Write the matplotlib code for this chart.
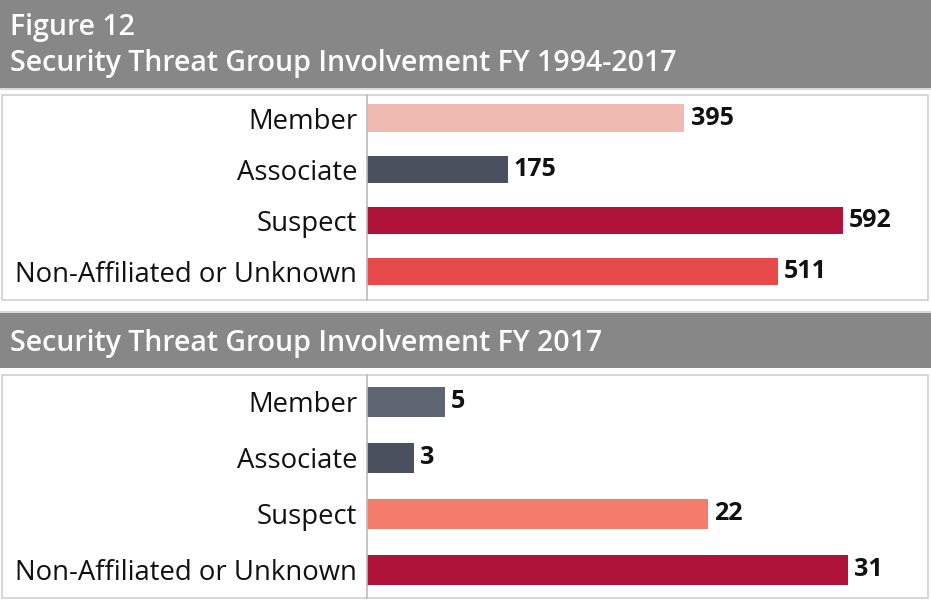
import matplotlib
matplotlib.use("Agg")
import matplotlib.pyplot as plt
from matplotlib.patches import Rectangle

plt.rcParams['font.family'] = ['Open Sans', 'DejaVu Sans']

categories = ["Member", "Associate", "Suspect", "Non-Affiliated or Unknown"]
values_all = [395, 175, 592, 511]
values_2017 = [5, 3, 22, 31]
colors_all = ["#EFBAB2", "#4A505E", "#B0133A", "#E8494A"]
colors_2017 = ["#5E6570", "#4A505E", "#F47C6A", "#B0133A"]
fig_label = "Figure 12"
title_all = "Security Threat Group Involvement FY 1994-2017"
title_2017 = "Security Threat Group Involvement FY 2017"

W, H = 931, 600
fig = plt.figure(figsize=(W / 100, H / 100), dpi=100)
fig.patch.set_facecolor("white")

def px_rect(x0, y0, x1, y1, **kw):
    # pixel coords from top-left
    r = Rectangle((x0 / W, 1 - y1 / H), (x1 - x0) / W, (y1 - y0) / H,
                  transform=fig.transFigure, zorder=-5, **kw)
    fig.patches.append(r)

HEADER = "#878787"
BORDER = "#CFCFCF"

# header 1
px_rect(0, 0, 931, 88, facecolor=HEADER, edgecolor="none")
px_rect(0, 88, 931, 90, facecolor="#DADADA", edgecolor="none")
fig.text(10 / W, 1 - 27 / H, fig_label, color="white", fontsize=20.5,
         fontweight="semibold", va="center", ha="left")
fig.text(10 / W, 1 - 63 / H, title_all, color="white", fontsize=20.5,
         fontweight="semibold", va="center", ha="left")
# box 1
px_rect(2, 95, 928, 300, facecolor="white", edgecolor=BORDER, linewidth=1.2)

# header 2
px_rect(0, 311, 931, 313, facecolor="#DADADA", edgecolor="none")
px_rect(0, 313, 931, 368, facecolor=HEADER, edgecolor="none")
fig.text(10 / W, 1 - 343 / H, title_2017, color="white", fontsize=20.5,
         fontweight="semibold", va="center", ha="left")
# box 2
px_rect(2, 375, 928, 598, facecolor="white", edgecolor=BORDER, linewidth=1.2)


def panel(y0, y1, values, colors, xmax, top_pad, bot_pad):
    ax = fig.add_axes([367 / W, 1 - y1 / H, (927 - 367) / W, (y1 - y0) / H])
    ax.set_zorder(2)
    ax.set_facecolor("none")
    pos = list(range(len(categories)))
    ax.barh(pos, values, height=0.53, color=colors, edgecolor="none")
    ax.set_xlim(0, xmax)
    ax.set_ylim(len(categories) - 1 + bot_pad, -top_pad)
    ax.set_yticks(pos)
    ax.set_yticklabels(categories, fontsize=19.8, color="#111111")
    ax.tick_params(axis="y", length=0, pad=7)
    ax.set_xticks([])
    for s in ["top", "right", "bottom"]:
        ax.spines[s].set_visible(False)
    ax.spines["left"].set_color("#BBBBBB")
    ax.spines["left"].set_linewidth(1.2)
    for p, v in zip(pos, values):
        ax.annotate(str(v), (v, p), xytext=(4.5, 0), textcoords="offset points",
                    va="center", ha="left", fontsize=18, fontweight="bold",
                    color="#111111")
    return ax

panel(95, 300, values_all, colors_all, 697, 0.45, 0.55)
panel(375, 598, values_2017, colors_2017, 36.1, 0.48, 0.5)

fig.savefig("out.png", dpi=100, facecolor="white")
